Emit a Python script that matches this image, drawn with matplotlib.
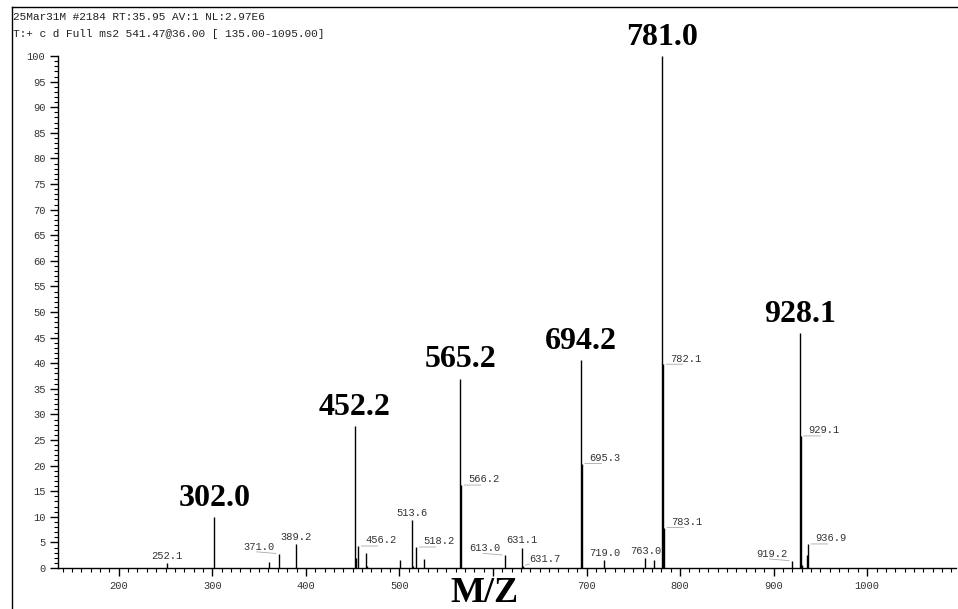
import matplotlib
matplotlib.use("Agg")
import matplotlib.pyplot as plt
from matplotlib.lines import Line2D
from matplotlib.ticker import MultipleLocator

# Spectre MS2 : positions m/z et intensites relatives
mz = [251.8, 302.0, 360.7, 371.0, 389.4, 452.2, 453.2, 456.2, 464.6, 465.5,
      500.8, 513.6, 514.5, 518.2, 525.8, 565.2, 566.2, 613.0, 631.1, 631.7,
      694.2, 695.3, 719.0, 763.0, 772.0, 781.0, 782.1, 783.1, 919.2, 928.1,
      929.1, 930.0, 935.2, 936.9]
intensite = [0.9, 10.0, 1.2, 2.8, 4.7, 27.8, 2.0, 4.3, 2.9, 0.4,
             1.6, 9.4, 0.4, 4.1, 1.7, 37.0, 16.2, 2.5, 4.0, 0.4,
             40.6, 20.4, 1.6, 2.0, 1.6, 100.0, 39.8, 7.9, 1.4, 45.9,
             25.8, 0.5, 2.5, 4.7]

# pics principaux (grandes etiquettes en gras)
pics_principaux = ["302.0", "452.2", "565.2", "694.2", "781.0", "928.1"]

# petites etiquettes : texte, position du pic, placement
petites_etiquettes = [
    ("252.1", 251.8, "centre"), ("371.0", 371.0, "gauche"),
    ("389.2", 389.4, "centre"), ("456.2", 456.2, "droite"),
    ("513.6", 513.6, "centre"), ("518.2", 518.2, "droite"),
    ("566.2", 566.2, "droite"), ("613.0", 613.0, "gauche"),
    ("631.1", 631.1, "centre"), ("631.7", 631.7, "bas"),
    ("695.3", 695.3, "droite"), ("719.0", 719.0, "centre"),
    ("763.0", 763.0, "centre"), ("782.1", 782.1, "droite"),
    ("783.1", 783.1, "droite"), ("919.2", 919.2, "gauche"),
    ("929.1", 929.1, "droite"), ("936.9", 936.9, "droite"),
]

# graduations x (600 cache par le titre M/Z dans l'original)
x_ticks = [200, 300, 400, 500, 600, 700, 800, 900, 1000]
x_tick_labels = ["200", "300", "400", "500", "", "700", "800", "900", "1000"]

entete = ["25Mar31M #2184 RT:35.95 AV:1 NL:2.97E6",
          "T:+ c d Full ms2 541.47@36.00 [ 135.00-1095.00]"]

fig = plt.figure(figsize=(9.58, 6.09), dpi=100)
ax = fig.add_axes([0.0605, 0.0673, 0.9375, 0.8407])

hauteur = dict(zip(mz, intensite))
ax.vlines(mz, 0, intensite, color="black", lw=1.0)

ax.set_xlim(135, 1095)
ax.set_ylim(0, 100)
for s in ["top", "right"]:
    ax.spines[s].set_visible(False)
ax.spines["left"].set_linewidth(1.0)
ax.spines["bottom"].set_linewidth(1.0)

ax.xaxis.set_minor_locator(MultipleLocator(10))
ax.yaxis.set_major_locator(MultipleLocator(5))
ax.yaxis.set_minor_locator(MultipleLocator(1))
ax.tick_params(which="major", length=6, width=1, colors="black", labelsize=7.5,
               labelcolor="#333333", pad=3)
ax.tick_params(which="minor", length=3, width=0.8)
ax.set_xticks(x_ticks)
ax.set_xticklabels(x_tick_labels)
for lab in ax.get_xticklabels() + ax.get_yticklabels():
    lab.set_family("Liberation Mono")

# grandes etiquettes
for txt in pics_principaux:
    x = float(txt)
    h = hauteur[x]
    ax.annotate(txt, (x, h), xytext=(0, 3), textcoords="offset points",
                ha="center", va="bottom", fontsize=23, fontweight="bold",
                family="Liberation Serif", annotation_clip=False)

# petites etiquettes avec traits de rappel gris
for txt, x, place in petites_etiquettes:
    h = hauteur[x]
    kw = dict(textcoords="offset points", fontsize=7.5, family="Liberation Mono",
              color="#333333", va="bottom")
    if place == "centre":
        ax.annotate(txt, (x, h), xytext=(0, 1.5), ha="center", **kw)
    elif place == "droite":
        ax.annotate(txt, (x, h), xytext=(5, 0.5), ha="left", **kw)
        ax.annotate("", (x, h), xytext=(16, 0), textcoords="offset points",
                    arrowprops=dict(arrowstyle="-", color="#aaaaaa", lw=0.6))
    elif place == "gauche":
        ax.annotate(txt, (x, h), xytext=(-3, 1.5), ha="right", **kw)
        ax.annotate("", (x, h), xytext=(-18, 1.5), textcoords="offset points",
                    arrowprops=dict(arrowstyle="-", color="#aaaaaa", lw=0.6))
    else:
        ax.annotate(txt, (x, h), xytext=(5, 1.5), ha="left", **kw)
        ax.annotate("", (x, h), xytext=(7, 2), textcoords="offset points",
                    arrowprops=dict(arrowstyle="-", color="#aaaaaa", lw=0.6))

fig.text(0.506, 0.012, "M/Z", ha="center", va="baseline", fontsize=26,
         fontweight="bold", family="Liberation Serif")

fig.text(0.014, 0.972, entete[0], ha="left", va="center", fontsize=8,
         family="Liberation Mono", color="#222222")
fig.text(0.014, 0.944, entete[1], ha="left", va="center", fontsize=8,
         family="Liberation Mono", color="#222222")

# cadre du haut et de gauche
fig.add_artist(Line2D([0.0125, 1.0], [0.988, 0.988], color="black", lw=1.0,
                      transform=fig.transFigure))
fig.add_artist(Line2D([0.0125, 0.0125], [0.0, 0.988], color="black", lw=1.0,
                      transform=fig.transFigure))

fig.savefig("out.png", dpi=100)
